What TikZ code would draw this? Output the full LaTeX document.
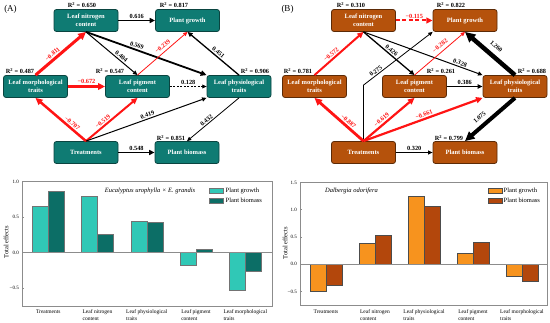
\documentclass[tikz,border=0pt]{standalone}
\usepackage{fontspec}
\setmainfont{Liberation Serif}
\usetikzlibrary{arrows.meta}
\definecolor{tealbox}{HTML}{0F7B73}
\definecolor{tealdark}{HTML}{0A4440}
\definecolor{brownbox}{HTML}{B5520C}
\definecolor{browndark}{HTML}{5C2A06}
\definecolor{gAone}{HTML}{30C8B6}
\definecolor{gAtwo}{HTML}{0C6E66}
\definecolor{gBone}{HTML}{F7931E}
\definecolor{gBtwo}{HTML}{B3470C}
\definecolor{myred}{HTML}{FF1414}
\begin{document}
\begin{tikzpicture}[x=1pt,y=-1pt,
  boxA/.style={draw=tealdark, fill=tealbox, rounded corners=2.5pt, minimum width=64pt, minimum height=22pt, inner sep=1pt, line width=0.8pt, text=white, align=center, font=\fontsize{6.5}{7.8}\selectfont\bfseries},
  boxB/.style={boxA, draw=browndark, fill=brownbox},
  arr/.style={-{Triangle[length=3pt 1.6,width=2.5pt 1.6]}},
  elab/.style={font=\fontsize{6.3}{7}\selectfont\bfseries, sloped, above, inner sep=1.2pt},
  rsq/.style={font=\fontsize{6.3}{7}\selectfont\bfseries, inner sep=0pt},
  panellab/.style={font=\fontsize{9}{10}\selectfont, inner sep=0pt},
  ticklab/.style={font=\fontsize{5}{6}\selectfont, anchor=east, inner sep=0.5pt},
  catlab/.style={font=\fontsize{5.5}{6.5}\selectfont, anchor=north, align=left, inner sep=0pt},
  chartframe/.style={draw=black!45, line width=0.5pt},
  barstyle/.style={draw=black!55, line width=0.4pt},
  leglab/.style={font=\fontsize{6.5}{7.5}\selectfont, anchor=west, inner sep=0pt},
  titlelab/.style={font=\fontsize{6.5}{7.5}\selectfont\itshape, inner sep=0pt},
  ylab/.style={font=\fontsize{6.5}{7.5}\selectfont, rotate=90, inner sep=0pt}
]
\useasboundingbox (0,0) rectangle (550,323);

% ================= Panel A path diagram =================
\node[panellab] (labA) at (10.5,9) {(A)};
\node[boxA] (nA) at (86,20.5) {Leaf nitrogen\\content};
\node[boxA] (gA) at (187.5,20.5) {Plant growth};
\node[boxA] (mA) at (35.5,86.5) {Leaf morphological\\traits};
\node[boxA] (pA) at (137.5,86.5) {Leaf pigment\\content};
\node[boxA] (phA) at (239,86.5) {Leaf physiological\\traits};
\node[boxA] (tA) at (86,152.5) {Treatments};
\node[boxA] (bA) at (187,152.5) {Plant biomass};

\node[rsq] (rA1) at (82,5) {R\textsuperscript{2}~=~0.650};
\node[rsq] (rA2) at (174,5) {R\textsuperscript{2}~=~0.817};
\node[rsq] (rA3) at (20,71) {R\textsuperscript{2}~=~0.487};
\node[rsq] (rA4) at (110,71) {R\textsuperscript{2}~=~0.547};
\node[rsq] (rA5) at (255,71) {R\textsuperscript{2}~=~0.906};
\node[rsq] (rA6) at (171,138) {R\textsuperscript{2}~=~0.851};

\draw[arr, line width=1.5pt] (nA.east) -- (gA.west) node[elab, midway] {0.616};
\draw[arr, myred, line width=3pt] (mA.north) -- (nA.south) node[elab, pos=0.4] {−0.811};
\draw[arr, line width=1pt] (nA.south) -- (pA.north) node[elab, pos=0.64] {0.404};
\draw[arr, line width=1.8pt] (nA.south) -- (phA.north west) node[elab, pos=0.41] {0.569};
\draw[arr, myred, line width=0.8pt] (pA.north) -- (gA.south) node[elab, pos=0.57, above=1.5pt] {−0.239};
\draw[arr, line width=1.3pt] (phA.north) -- (gA.south) node[elab, pos=0.45] {0.451};
\draw[arr, myred, line width=2.5pt] (mA.east) -- (pA.west) node[elab, midway] {−0.672};
\draw[arr, line width=0.8pt, dash pattern=on 2pt off 1.5pt] (pA.east) -- (phA.west) node[elab, midway] {0.128};
\draw[arr, myred, line width=2.5pt] (tA.north) -- (mA.south) node[elab, pos=0.33] {−0.707};
\draw[arr, myred, line width=2pt] (tA.north) -- (pA.south) node[elab, pos=0.38] {−0.519};
\draw[arr, line width=1pt] (tA.north) -- (phA.south west) node[elab, pos=0.52] {0.419};
\draw[arr, line width=0.8pt] (phA.south) -- (bA.north) node[elab, pos=0.58] {0.432};
\draw[arr, line width=1.5pt] (tA.east) -- (bA.west) node[elab, midway] {0.548};

% ================= Panel B path diagram =================
\node[panellab] (labB) at (287.5,9) {(B)};
\node[boxB] (nB) at (363.5,20.5) {Leaf nitrogen\\content};
\node[boxB] (gB) at (465,20.5) {Plant growth};
\node[boxB] (mB) at (314.5,86.5) {Leaf morphological\\traits};
\node[boxB] (pB) at (414.5,86.5) {Leaf pigment\\content};
\node[boxB] (phB) at (515,86.5) {Leaf physiological\\traits};
\node[boxB] (tB) at (363.5,152.5) {Treatments};
\node[boxB] (bB) at (465,152.5) {Plant biomass};

\node[rsq] (rB1) at (351,5) {R\textsuperscript{2}~=~0.310};
\node[rsq] (rB2) at (451,5) {R\textsuperscript{2}~=~0.822};
\node[rsq] (rB3) at (298,71) {R\textsuperscript{2}~=~0.781};
\node[rsq] (rB4) at (441,71) {R\textsuperscript{2}~=~0.261};
\node[rsq] (rB5) at (532,71) {R\textsuperscript{2}~=~0.688};
\node[rsq] (rB6) at (449,138) {R\textsuperscript{2}~=~0.799};

\path (tB.north) ++(0,-56) coordinate (kB);

\draw[arr, myred, line width=2pt, dash pattern=on 4pt off 2.5pt] (nB.east) -- (gB.west) node[elab, midway] {−0.115};
\draw[arr, myred, line width=2pt] (mB.north) -- (nB.south) node[elab, pos=0.4] {−0.572};
\draw[arr, line width=1.3pt] (nB.south) -- (pB.north) node[elab, pos=0.5] {0.426};
\draw[arr, line width=1pt] (nB.south) -- (phB.north west) node[elab, pos=0.8] {0.328};
\draw[arr, myred, line width=0.8pt] (pB.north) -- (gB.south) node[elab, pos=0.58, above=2pt] {−0.282};
\draw[arr, line width=4.5pt] (phB.north) -- (gB.south) node[elab, pos=0.5, above=4pt] {1.260};
\draw[arr, line width=0.8pt] (tB.north) -- (kB) -- (gB.south west) node[elab, pos=0.21] {0.275};
\draw[arr, line width=1.2pt] (pB.east) -- (phB.west) node[elab, midway] {0.386};
\draw[arr, myred, line width=2.8pt] (tB.north) -- (mB.south) node[elab, pos=0.37] {−0.887};
\draw[arr, myred, line width=2.2pt] (tB.north) -- (pB.south) node[elab, pos=0.41] {−0.619};
\draw[arr, myred, line width=2.2pt] (tB.north) -- (phB.south west) node[elab, pos=0.52] {−0.661};
\draw[arr, line width=4pt] (phB.south) -- (bB.north) node[elab, pos=0.6, above=3pt] {1.075};
\draw[arr, line width=1pt] (tB.east) -- (bB.west) node[elab, midway] {0.320};

% ================= Chart A =================
\begin{scope}[shift={(0,252.7)}, y=71pt]
  \foreach \c/\g/\b in {48.3/0.648/0.873, 97.5/0.789/0.263, 146.7/0.446/0.423, 196/-0.183/0.052, 245.3/-0.535/-0.258} {
    \draw[barstyle, fill=gAone] (\c-16,0) rectangle (\c,\g);
    \draw[barstyle, fill=gAtwo] (\c,0) rectangle (\c+16,\b);
  }
  \draw[draw=black!45, line width=0.5pt] (22,0) -- (272,0);
  \draw[chartframe] (22,-0.75) rectangle (272,1.0);
  \foreach \v/\t in {1.0/1.0, 0.5/0.5, 0/0.0, -0.5/−0.5} {
    \draw[chartframe] (22,\v) -- (24,\v);
    \node[ticklab] at (19.5,\v) {\t};
  }
\end{scope}
\node[ylab] (yA) at (6,242) {Total effects};
\foreach \c/\t in {48.3/Treatments, 97.5/{Leaf nitrogen\\content}, 146.7/{Leaf physiological\\traits}, 196/{Leaf pigment\\content}, 245.3/{Leaf morphological\\traits}} {
  \node[catlab] at (\c,309.5) {\t};
}
\node[titlelab] (tiA) at (150,190.5) {Eucalyptus urophylla × E. grandis};
\draw[barstyle, fill=gAone] (209,188) rectangle (223,193.5);
\draw[barstyle, fill=gAtwo] (209,198) rectangle (223,203.5);
\node[leglab] (lgA1) at (225.5,190.7) {Plant growth};
\node[leglab] (lgA2) at (225.5,200.7) {Plant biomass};

% ================= Chart B =================
\begin{scope}[shift={(0,264.3)}, y=54.6pt]
  \foreach \c/\g/\b in {326/-0.49/-0.38, 375/0.384/0.524, 424/1.256/1.068, 473/0.2/0.403, 522/-0.214/-0.306} {
    \draw[barstyle, draw=black!70, fill=gBone] (\c-15.7,0) rectangle (\c,\g);
    \draw[barstyle, draw=black!70, fill=gBtwo] (\c,0) rectangle (\c+15.7,\b);
  }
  \draw[draw=black!45, line width=0.5pt] (300,0) -- (547,0);
  \draw[chartframe] (300,-0.75) rectangle (547,1.5);
  \foreach \v/\t in {1.5/1.5, 1.0/1.0, 0.5/0.5, 0/0.0, -0.5/−0.5} {
    \draw[chartframe] (300,\v) -- (302,\v);
    \node[ticklab] at (297.5,\v) {\t};
  }
\end{scope}
\node[ylab] (yB) at (285,243) {Total effects};
\foreach \c/\t in {326/Treatments, 375/{Leaf nitrogen\\content}, 424/{Leaf physiological\\traits}, 473/{Leaf pigment\\content}, 522/{Leaf morphological\\traits}} {
  \node[catlab] at (\c,309.5) {\t};
}
\node[titlelab] (tiB) at (351.5,190.5) {Dalbergia odorifera};
\draw[barstyle, draw=black!70, fill=gBone] (487.7,188) rectangle (501.7,193.5);
\draw[barstyle, draw=black!70, fill=gBtwo] (487.7,198) rectangle (501.7,203.5);
\node[leglab] (lgB1) at (503.5,190.7) {Plant growth};
\node[leglab] (lgB2) at (503.5,200.7) {Plant biomass};
\end{tikzpicture}
\end{document}
